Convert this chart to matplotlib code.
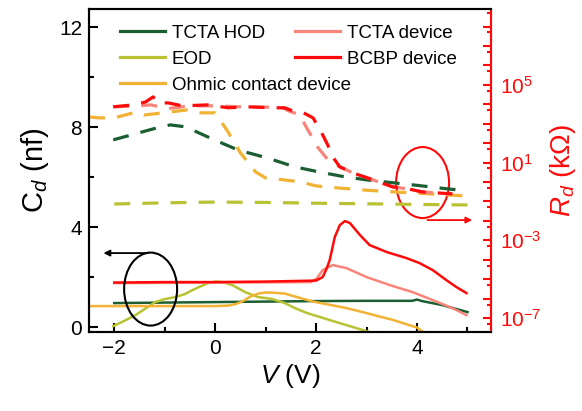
import numpy as np
import matplotlib
matplotlib.use("Agg")
import matplotlib.pyplot as plt
from matplotlib.lines import Line2D
from matplotlib.patches import Ellipse
from matplotlib.ticker import FixedLocator, NullFormatter, FuncFormatter

plt.rcParams['font.family'] = ['Liberation Sans', 'DejaVu Sans']
plt.rcParams['mathtext.fontset'] = 'custom'
plt.rcParams['mathtext.rm'] = 'Liberation Sans'
plt.rcParams['mathtext.it'] = 'Liberation Sans:italic'

# colours
c_hod = '#1b5e32'
c_eod = '#b8c232'
c_ohm = '#f2b233'
c_tcta = '#f9857a'
c_bcbp = '#ff0a0a'

# ---- C_d (solid, left axis, nf) ----
hod_v = [-2.0, -1.0, 0.0, 1.0, 2.0, 3.0, 3.9, 4.0, 4.1, 4.5, 5.0]
hod_c = [0.96, 0.98, 1.0, 1.02, 1.04, 1.05, 1.05, 1.1, 1.04, 0.88, 0.6]

eod_v = [-2.02, -1.8, -1.58, -1.4, -1.19, -1.0, -0.79, -0.6, -0.45, -0.3, -0.14, 0.0,
         0.14, 0.34, 0.59, 0.85, 1.0, 1.13, 1.38, 1.58, 1.82, 2.05, 2.27, 2.5, 2.73, 3.06]
eod_c = [0.04, 0.25, 0.48, 0.72, 1.0, 1.12, 1.2, 1.32, 1.48, 1.62, 1.76, 1.82,
         1.8, 1.68, 1.4, 1.2, 1.16, 1.12, 0.96, 0.76, 0.56, 0.42, 0.28, 0.14, 0.0, -0.2]

ohm_v = [-2.5, -2.0, -1.0, 0.0, 0.26, 0.4, 0.53, 0.7, 0.85, 1.0, 1.13, 1.38, 1.62,
         1.94, 2.3, 2.6, 3.0, 3.26, 3.5, 3.72, 4.0, 4.12]
ohm_c = [0.84, 0.84, 0.84, 0.84, 0.86, 0.92, 1.02, 1.22, 1.34, 1.38, 1.38, 1.34, 1.2,
         1.02, 0.88, 0.76, 0.56, 0.42, 0.3, 0.16, -0.02, -0.2]

tcta_v = [-2.0, 0.0, 1.9, 2.02, 2.13, 2.33, 2.6, 3.0, 3.46, 3.91, 4.31, 4.7, 4.98]
tcta_c = [1.76, 1.78, 1.8, 1.96, 2.28, 2.48, 2.36, 2.0, 1.68, 1.4, 1.08, 0.76, 0.48]

bcbp_v = [-2.0, -1.0, 0.0, 1.0, 2.0, 2.13, 2.2, 2.27, 2.37, 2.47, 2.57, 2.67, 2.87,
          3.06, 3.4, 3.79, 4.05, 4.31, 4.58, 4.78, 4.88, 4.98]
bcbp_c = [1.78, 1.8, 1.8, 1.82, 1.86, 2.0, 2.3, 2.68, 3.6, 4.08, 4.24, 4.16, 3.68,
          3.28, 3.0, 2.76, 2.56, 2.28, 1.88, 1.6, 1.48, 1.36]

# ---- R_d (dashed, right axis, log10 of kOhm) ----
hod_rv = [-2.02, -1.15, -0.89, -0.59, -0.06, 0.45, 1.03, 1.58, 2.0, 2.5, 3.0, 3.5, 4.0, 4.5, 5.0]
hod_lr = [2.17, 2.79, 2.94, 2.84, 2.22, 1.65, 1.24, 0.78, 0.55, 0.3, 0.11, -0.03, -0.17, -0.32, -0.46]

eod_rv = [-2.0, -1.0, 0.0, 1.0, 2.0, 3.0, 4.0, 5.0]
eod_lr = [-1.13, -1.07, -1.03, -1.05, -1.09, -1.12, -1.15, -1.18]

ohm_rv = [-2.5, -2.3, -2.0, -1.55, -1.4, -0.55, -0.3, 0.0, 0.25, 0.5, 0.8, 1.0, 1.4,
          1.7, 2.0, 2.5, 3.0, 3.5, 4.0, 4.5, 5.0]
ohm_lr = [3.35, 3.3, 3.3, 3.61, 3.45, 3.71, 3.56, 3.56, 2.6, 1.5, 0.52, 0.21, 0.1,
          0.0, -0.2, -0.32, -0.42, -0.5, -0.57, -0.65, -0.72]

tcta_rv = [-2.02, -1.5, -1.28, -0.93, -0.5, 0.0, 0.5, 1.0, 1.29, 1.5, 1.68, 1.78, 2.04,
           2.27, 2.47, 2.73, 3.02, 3.3, 3.52, 3.84, 4.1, 4.4, 4.7]
tcta_lr = [3.87, 3.92, 3.97, 3.78, 3.92, 3.92, 3.87, 3.85, 3.87, 3.61, 3.46, 2.94, 1.76,
           1.03, 0.78, 0.47, 0.21, -0.05, -0.25, -0.36, -0.51, -0.56, -0.61]

bcbp_rv = [-2.02, -1.62, -1.38, -1.23, -1.13, -0.93, -0.65, -0.14, 0.26, 0.63, 1.19,
           1.38, 1.58, 1.75, 1.94, 2.1, 2.23, 2.33, 2.47, 2.73, 3.02, 3.3, 3.52, 3.84,
           4.1, 4.4, 4.7]
bcbp_lr = [3.87, 3.97, 4.12, 4.38, 4.07, 4.07, 3.92, 3.97, 3.82, 3.87, 3.82, 3.82,
           3.61, 3.56, 3.30, 2.58, 1.91, 1.29, 0.78, 0.47, 0.21, -0.05, -0.25, -0.36,
           -0.51, -0.56, -0.61]

fig = plt.figure(figsize=(5.82, 4.11), dpi=100)
ax = fig.add_axes([0.153, 0.192, 0.691, 0.786])
ax2 = ax.twinx()

lw_s = 1.8
ax.plot(hod_v, hod_c, color=c_hod, lw=lw_s)
ax.plot(eod_v, eod_c, color=c_eod, lw=lw_s)
ax.plot(ohm_v, ohm_c, color=c_ohm, lw=lw_s)
ax.plot(tcta_v, tcta_c, color=c_tcta, lw=lw_s)
ax.plot(bcbp_v, bcbp_c, color=c_bcbp, lw=lw_s)

lw_d = 2.3
dash = (5.0, 3.8)
for v, lr, col in [(eod_rv, eod_lr, c_eod), (hod_rv, hod_lr, c_hod),
                   (ohm_rv, ohm_lr, c_ohm), (tcta_rv, tcta_lr, c_tcta),
                   (bcbp_rv, bcbp_lr, c_bcbp)]:
    ax2.plot(v, 10 ** np.array(lr), color=col, lw=lw_d, dashes=dash)

ax.set_xlim(-2.5, 5.47)
ax.set_ylim(-0.2, 12.72)
ax2.set_yscale('log')
ax2.set_ylim(10 ** -7.72, 10 ** 8.9)

# ticks
ax.set_xticks([-2, 0, 2, 4])
ax.set_xticks([-1, 1, 3, 5], minor=True)
ax.set_yticks([0, 4, 8, 12])
ax.set_yticks([2, 6, 10], minor=True)
ax.tick_params(which='both', direction='in', width=1.5, labelsize=15, top=False, right=False)
ax.tick_params(which='major', length=6.5, pad=5)
ax.tick_params(which='minor', length=3.5)

ax2.yaxis.set_major_locator(FixedLocator([10.0 ** k for k in range(-7, 9)]))
ax2.yaxis.set_minor_locator(FixedLocator([5 * 10.0 ** k for k in range(-8, 9)]))
ax2.yaxis.set_major_formatter(FuncFormatter(
    lambda y, p: r'$10^{%d}$' % round(np.log10(y)) if round(np.log10(y)) in (-7, -3, 1, 5) else ''))
ax2.yaxis.set_minor_formatter(NullFormatter())
ax2.tick_params(which='both', direction='in', width=1.5, labelsize=15,
                colors=c_bcbp, left=False)
ax2.tick_params(which='major', length=6, pad=6)
ax2.tick_params(which='minor', length=3)

for s in ['left', 'bottom', 'top']:
    ax.spines[s].set_linewidth(1.5)
    ax2.spines[s].set_linewidth(1.5)
ax2.spines['right'].set_color(c_bcbp)
ax2.spines['right'].set_linewidth(1.5)

ax.set_xlabel(r'$V$ (V)', fontsize=19, labelpad=3)
ax.set_ylabel(r'C$_{\mathit{d}}$ (nf)', fontsize=21, labelpad=6)
ax2.set_ylabel(r'$R_d$ (kΩ)', fontsize=20, color=c_bcbp, labelpad=5)

# annotation ellipses and arrows
ax.add_patch(Ellipse((-1.28, 1.52), 1.05, 2.92, fill=False, color='black', lw=1.5, zorder=5))
ax.annotate('', xy=(-2.27, 2.96), xytext=(-1.28, 2.96),
            arrowprops=dict(arrowstyle='-|>', color='black', lw=1.3, mutation_scale=9))
ax.add_patch(Ellipse((4.11, 5.78), 1.05, 2.84, fill=False, color=c_bcbp, lw=1.5, zorder=5))
ax.annotate('', xy=(5.15, 4.28), xytext=(4.15, 4.28),
            arrowprops=dict(arrowstyle='-|>', color=c_bcbp, lw=1.3, mutation_scale=9))

# legends
h1 = [Line2D([], [], color=c_hod, lw=2.3), Line2D([], [], color=c_eod, lw=2.3),
      Line2D([], [], color=c_ohm, lw=2.3)]
l1 = ['TCTA HOD', 'EOD', 'Ohmic contact device']
h2 = [Line2D([], [], color=c_tcta, lw=2.3), Line2D([], [], color=c_bcbp, lw=2.3)]
l2 = ['TCTA device', 'BCBP device']
kw = dict(frameon=False, fontsize=13.5, handlelength=2.4, handletextpad=0.35,
          labelspacing=0.48, borderpad=0, borderaxespad=0, loc='upper left')
leg1 = ax2.legend(h1, l1, bbox_to_anchor=(0.077, 0.952), **kw)
ax2.add_artist(leg1)
ax2.legend(h2, l2, bbox_to_anchor=(0.512, 0.952), **kw)

fig.savefig('out.png', dpi=100)
